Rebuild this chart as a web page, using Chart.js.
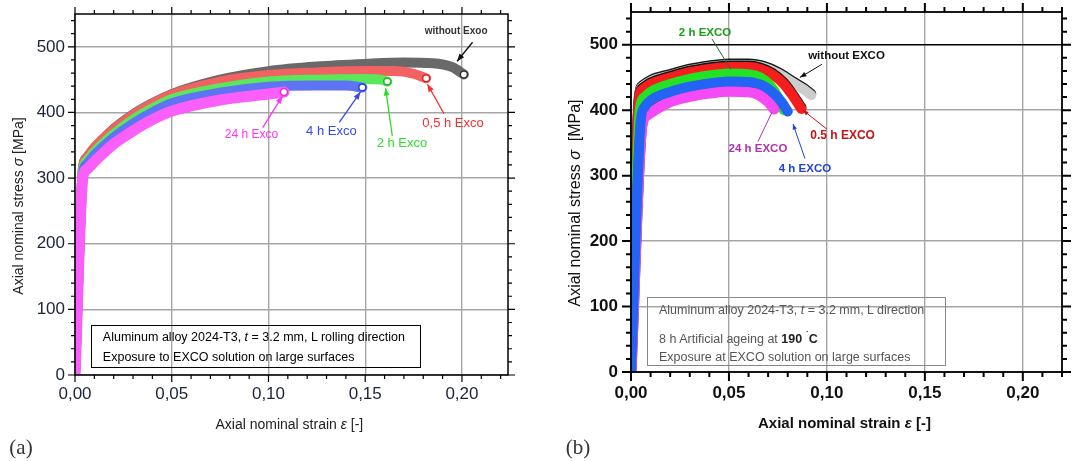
<!DOCTYPE html>
<html>
<head>
<meta charset="utf-8">
<script src="https://cdn.jsdelivr.net/npm/chart.js@4.4.0/dist/chart.umd.min.js"></script>
<style>
  body { margin: 0; background: #fff; width: 1075px; height: 461px; position: relative; overflow: hidden;
         font-family: "Liberation Sans", Arial, sans-serif; }
  canvas { position: absolute; top: 0; }
  .t { position: absolute; white-space: nowrap; transform: translate(-50%, -50%); color: #222; }
  .rot { transform: translate(-50%, -50%) rotate(-90deg); }
  .box { position: absolute; box-sizing: border-box; }
  .line { position: absolute; white-space: nowrap; transform: translateY(-50%); }
  .lbl { position: absolute; transform: translate(-50%, -50%); font-family: "Liberation Serif", serif; font-size: 21px; color: #333; }
</style>
</head>
<body>
<canvas id="chartA" width="540" height="461" style="left:0"></canvas>
<canvas id="chartB" width="535" height="461" style="left:540px"></canvas>

<div class="t rot" id="aYT" style="font-size:14px">Axial nominal stress <i>σ</i> [MPa]</div>
<div class="t" id="aXT" style="font-size:14px">Axial nominal strain <i>ε</i> [-]</div>
<div class="box" id="aBox" style="border:1.5px solid #000"></div>
<div class="line" id="aL1" style="font-size:12.5px">Aluminum alloy 2024-T3, <i>t</i> = 3.2 mm, L rolling direction</div>
<div class="line" id="aL2" style="font-size:12.5px">Exposure to EXCO solution on large surfaces</div>
<div class="lbl" id="aLbl">(a)</div>

<div class="t rot" id="bYT" style="font-size:16px;color:#111">Axial nominal stress <i>σ</i>&nbsp; [MPa]</div>
<div class="t" id="bXT" style="font-size:15px;font-weight:bold;color:#111">Axial nominal strain <i>ε</i> [-]</div>
<div class="box" id="bBox" style="border:1.2px solid #888"></div>
<div class="line" id="bL1" style="font-size:12.5px;color:#555">Aluminum alloy 2024-T3, <i>t</i> = 3.2 mm, L direction</div>
<div class="line" id="bL2" style="font-size:12.5px;color:#555">8 h Artificial ageing at <b style="color:#222">190 <sup style="font-size:9px">˙</sup>C</b></div>
<div class="line" id="bL3" style="font-size:12.5px;color:#555">Exposure at EXCO solution on large surfaces</div>
<div class="lbl" id="bLbl">(b)</div>

<script>
// axis ticks
const xTickVals = [0, 0.05, 0.10, 0.15, 0.20];
const xTickLabels = ['0,00', '0,05', '0,10', '0,15', '0,20'];
const yTickVals = [0, 100, 200, 300, 400, 500];

// (a) 2024-T3, L rolling direction
const aStrainNo = [0, 0.0042, 0.006, 0.01, 0.015, 0.02, 0.03, 0.04, 0.05, 0.075, 0.10, 0.125, 0.15, 0.17, 0.185, 0.195, 0.201];
const aStressNo = [0, 318, 331, 346, 361, 375, 397, 414, 428, 450, 463, 470, 474, 476, 475, 469, 458];
const aStrain05 = [0, 0.0042, 0.006, 0.01, 0.015, 0.02, 0.03, 0.04, 0.05, 0.075, 0.10, 0.125, 0.15, 0.165, 0.175, 0.1815];
const aStress05 = [0, 318, 331, 346, 361, 374, 396, 413, 427, 447, 457, 461, 463, 463, 459, 452];
const aStrain2 = [0, 0.0042, 0.006, 0.01, 0.015, 0.02, 0.03, 0.04, 0.05, 0.075, 0.10, 0.125, 0.15, 0.158, 0.1614];
const aStress2 = [0, 313, 326, 340, 354, 367, 389, 406, 420, 437, 447, 450, 451, 450, 447];
const aStrain4 = [0, 0.0042, 0.006, 0.01, 0.015, 0.02, 0.03, 0.04, 0.05, 0.075, 0.10, 0.125, 0.14, 0.1485];
const aStress4 = [0, 308, 321, 335, 349, 362, 383, 400, 414, 430, 439, 441, 441, 438];
const aStrain24 = [0, 0.004, 0.006, 0.01, 0.015, 0.02, 0.03, 0.04, 0.05, 0.075, 0.10, 0.108];
const aStress24 = [0, 300, 313, 325, 339, 352, 372, 389, 402, 419, 428, 431];

// (b) 2024-T3, 8 h artificial ageing at 190 °C
const bStrainNo = [0, 0.004, 0.006, 0.01, 0.02, 0.03, 0.04, 0.05, 0.06, 0.068, 0.075, 0.082, 0.088, 0.092];
const bStressNo = [0, 418, 436, 444, 453, 461, 466, 469, 469, 465, 456, 443, 432, 423];
const bStrain05 = [0, 0.004, 0.006, 0.01, 0.02, 0.03, 0.04, 0.05, 0.06, 0.066, 0.072, 0.078, 0.083, 0.087];
const bStress05 = [0, 415, 432, 440, 450, 458, 463, 466, 466, 463, 455, 440, 420, 402];
const bStrain2 = [0, 0.0045, 0.007, 0.01, 0.02, 0.03, 0.04, 0.05, 0.06, 0.066, 0.071, 0.075, 0.078];
const bStress2 = [0, 400, 420, 428, 440, 448, 453, 456, 455, 450, 438, 420, 400];
const bStrain4 = [0, 0.005, 0.007, 0.01, 0.02, 0.03, 0.04, 0.05, 0.06, 0.067, 0.072, 0.077, 0.08];
const bStress4 = [0, 385, 405, 415, 428, 436, 441, 444, 443, 438, 428, 412, 398];
const bStrain24 = [0, 0.0055, 0.008, 0.012, 0.02, 0.03, 0.04, 0.05, 0.06, 0.065, 0.07, 0.073];
const bStress24 = [0, 375, 392, 400, 413, 421, 426, 429, 428, 424, 413, 402];

const FONT = '"Liberation Sans", Arial, sans-serif';
const pts = (xs, ys) => xs.map((x, i) => ({ x, y: ys[i] }));

function band(xs, ys, color, order, width, endColor, edge) {
  return {
    data: pts(xs, ys), showLine: true, order, edge,
    borderColor: color, backgroundColor: color, borderWidth: width,
    borderCapStyle: 'round', borderJoinStyle: 'round', cubicInterpolationMode: 'monotone',
    pointRadius: c => (endColor && c.dataIndex === xs.length - 1) ? 3.5 : 0,
    pointBackgroundColor: '#fff', pointBorderColor: endColor || color, pointBorderWidth: 1.5
  };
}

// frame + outward major/minor ticks on all four sides
const frame = {
  id: 'frame',
  afterDraw(chart, args, o) {
    const { ctx, chartArea: a, scales: { x, y } } = chart;
    ctx.save();
    ctx.strokeStyle = '#000';
    ctx.lineWidth = o.border;
    ctx.strokeRect(a.left, a.top, a.right - a.left, a.bottom - a.top);
    ctx.lineWidth = o.tickW;
    ctx.beginPath();
    for (let i = 0; i / 100 <= x.max; i++) {
      const px = x.getPixelForValue(i / 100), L = i % 5 === 0 ? o.major : o.minor;
      ctx.moveTo(px, a.bottom); ctx.lineTo(px, a.bottom + L);
      ctx.moveTo(px, a.top); ctx.lineTo(px, a.top - L);
    }
    for (let i = 0; i * 20 <= y.max; i++) {
      const py = y.getPixelForValue(i * 20), L = i % 5 === 0 ? o.major : o.minor;
      ctx.moveTo(a.left, py); ctx.lineTo(a.left - L, py);
      ctx.moveTo(a.right, py); ctx.lineTo(a.right + L, py);
    }
    ctx.stroke();
    ctx.restore();
  }
};

// dark edge on top of some bands (panel b)
const edge = {
  id: 'edge',
  beforeDatasetDraw(chart, args) {
    if (!chart.data.datasets[args.index].edge) return;
    const c = chart.ctx;
    c.save();
    c.shadowColor = 'rgba(0,0,0,0.9)'; c.shadowOffsetY = -1.5; c.shadowBlur = 0;
  },
  afterDatasetDraw(chart, args) {
    if (chart.data.datasets[args.index].edge) chart.ctx.restore();
  }
};

// curve labels with pointer arrows, placed in data coordinates
const notes = {
  id: 'notes',
  afterDraw(chart, args, o) {
    const { ctx, scales: { x, y } } = chart;
    const P = p => [x.getPixelForValue(p[0]), y.getPixelForValue(p[1])];
    ctx.save();
    o.items.forEach(n => {
      const [x1, y1] = P(n.from), [x2, y2] = P(n.to);
      ctx.strokeStyle = n.line || n.color; ctx.fillStyle = n.line || n.color; ctx.lineWidth = n.lw || 1.3;
      ctx.beginPath(); ctx.moveTo(x1, y1); ctx.lineTo(x2, y2); ctx.stroke();
      if (n.head) {
        const ang = Math.atan2(y2 - y1, x2 - x1), s = n.head;
        ctx.beginPath(); ctx.moveTo(x2, y2);
        ctx.lineTo(x2 - s * Math.cos(ang - 0.38), y2 - s * Math.sin(ang - 0.38));
        ctx.lineTo(x2 - s * Math.cos(ang + 0.38), y2 - s * Math.sin(ang + 0.38));
        ctx.closePath(); ctx.fill();
      }
      const [tx, ty] = P(n.at);
      ctx.font = n.font; ctx.fillStyle = n.color; ctx.textAlign = 'center'; ctx.textBaseline = 'middle';
      ctx.fillText(n.text, tx, ty);
    });
    ctx.restore();
  }
};

function makeChart(id, datasets, o) {
  return new Chart(document.getElementById(id), {
    type: 'scatter',
    data: { datasets },
    options: {
      responsive: false, animation: false, events: [],
      layout: { padding: { left: 0, right: o.padR, top: o.padT, bottom: 0 } },
      plugins: { legend: { display: false }, tooltip: { enabled: false }, frame: o.frame, notes: { items: o.notes } },
      scales: {
        x: {
          type: 'linear', min: 0, max: o.xMax,
          afterFit: s => { s.height = o.xH; s.paddingLeft = 0; s.paddingRight = 0; },
          afterBuildTicks: s => { s.ticks = xTickVals.map(value => ({ value })); },
          ticks: { callback: v => xTickLabels[xTickVals.indexOf(v)], font: o.tickFont, color: o.tickColor,
                   padding: o.xPad, maxRotation: 0, autoSkip: false },
          grid: { color: '#a6a6a6', lineWidth: 1.4, drawTicks: false },
          border: { display: false }
        },
        y: {
          type: 'linear', min: 0, max: 550,
          afterFit: s => { s.width = o.yW; s.paddingTop = 0; s.paddingBottom = 0; },
          afterBuildTicks: s => { s.ticks = yTickVals.map(value => ({ value })); },
          ticks: { font: o.tickFont, color: o.tickColor, padding: o.yPad, autoSkip: false },
          grid: { color: o.gridColor, lineWidth: o.gridWidth, drawTicks: false },
          border: { display: false }
        }
      }
    },
    plugins: [edge, frame, notes]
  });
}

const chartA = makeChart('chartA', [
  band(aStrain24, aStress24, 'rgb(250,95,250)', 1, 11, '#e030e0'),
  band(aStrain4, aStress4, 'rgb(95,115,245)', 2, 10, '#2040e0'),
  band(aStrain2, aStress2, 'rgb(90,232,90)', 3, 10, '#20b020'),
  band(aStrain05, aStress05, 'rgb(242,98,98)', 4, 10, '#e02020'),
  band(aStrainNo, aStressNo, 'rgb(105,105,105)', 5, 10, '#333')
], {
  xMax: 0.2238, padR: 32, padT: 14, xH: 86, yW: 75, xPad: 9, yPad: 10,
  tickFont: { family: FONT, size: 17 }, tickColor: '#1c2238',
  gridColor: '#a6a6a6', gridWidth: 1.4,
  frame: { border: 1.5, tickW: 1.2, major: 7, minor: 4 },
  notes: [
    { text: 'without Exoo', color: '#333', line: '#111', font: 'bold 10px ' + FONT, at: [0.197, 523], from: [0.2055, 507], to: [0.1975, 478], head: 8 },
    { text: '0,5 h Exco', color: '#ff2a2a', font: '13px ' + FONT, at: [0.1954, 383], from: [0.1907, 398], to: [0.1822, 443], head: 8 },
    { text: '2 h Exco', color: '#2edc2e', font: '13px ' + FONT, at: [0.169, 353], from: [0.164, 364], to: [0.1605, 437], head: 8 },
    { text: '4 h Exco', color: '#3348ee', font: '13px ' + FONT, at: [0.1325, 371], from: [0.1366, 385], to: [0.1475, 431], head: 8 },
    { text: '24 h Exco', color: '#ff33ff', font: '12px ' + FONT, at: [0.0912, 366], from: [0.097, 377], to: [0.1072, 425], head: 8 }
  ]
});

const chartB = makeChart('chartB', [
  band(bStrain4, bStress4, 'rgb(35,100,245)', 1, 10),
  band(bStrain24, bStress24, 'rgb(245,75,245)', 2, 11, null, true),
  band(bStrain2, bStress2, 'rgb(35,225,35)', 3, 10),
  band(bStrain05, bStress05, 'rgb(245,30,30)', 4, 10, null, true),
  band(bStrainNo, bStressNo, 'rgb(205,205,205)', 5, 10, null, true)
], {
  xMax: 0.22, padR: 13, padT: 12, xH: 89, yW: 91, xPad: 11, yPad: 13,
  tickFont: { family: FONT, size: 17, weight: 'bold' }, tickColor: '#111',
  gridColor: c => c.tick.value === 500 ? '#000' : '#a6a6a6',
  gridWidth: c => c.tick.value === 500 ? 1.6 : 1.4,
  frame: { border: 1.8, tickW: 2, major: 9, minor: 5 },
  notes: [
    { text: '2 h EXCO', color: '#15a015', line: '#2a6a2a', font: 'bold 11.5px ' + FONT, at: [0.0378, 518], from: [0.0413, 509], to: [0.051, 462], lw: 1 },
    { text: 'without EXCO', color: '#111', font: 'bold 11.5px ' + FONT, at: [0.110, 483], from: [0.0974, 470], to: [0.0862, 450], head: 7, lw: 1 },
    { text: '0.5 h EXCO', color: '#c41414', font: 'bold 12px ' + FONT, at: [0.108, 361], from: [0.100, 371], to: [0.0878, 400], head: 6, lw: 1 },
    { text: '24 h EXCO', color: '#b030b0', font: 'bold 11.5px ' + FONT, at: [0.0648, 341], from: [0.0648, 352], to: [0.072, 397], lw: 1 },
    { text: '4 h EXCO', color: '#2244cc', font: 'bold 11.5px ' + FONT, at: [0.0888, 311], from: [0.0888, 326], to: [0.0827, 379], head: 6, lw: 1 }
  ]
});

// place the html texts relative to each chart's scales
function placer(chart, offX) {
  const { x, y } = chart.scales, a = chart.chartArea;
  return { X: v => offX + x.getPixelForValue(v), Y: v => y.getPixelForValue(v), L: offX + a.left, B: a.bottom };
}
function put(id, left, top) {
  const el = document.getElementById(id);
  el.style.left = left + 'px'; el.style.top = top + 'px';
}
function boxAt(id, l, r, t, b) {
  const el = document.getElementById(id);
  el.style.left = l + 'px'; el.style.top = t + 'px';
  el.style.width = (r - l) + 'px'; el.style.height = (b - t) + 'px';
}

const pa = placer(chartA, 0);
put('aYT', pa.L - 57, pa.Y(257));
put('aXT', pa.X(0.1108), pa.B + 49);
boxAt('aBox', pa.X(0.0082), pa.X(0.1789), pa.Y(76), pa.Y(11));
put('aL1', pa.X(0.0144), pa.Y(58));
put('aL2', pa.X(0.0144), pa.Y(27));
put('aLbl', pa.L - 54, pa.B + 72);

const pb = placer(chartB, 540);
put('bYT', pb.L - 56, pb.Y(258));
put('bXT', pb.X(0.109), pb.B + 50);
boxAt('bBox', pb.X(0.0082), pb.X(0.1607), pb.Y(115), pb.Y(9));
put('bL1', pb.X(0.0143), pb.Y(94));
put('bL2', pb.X(0.0143), pb.Y(51.5));
put('bL3', pb.X(0.0143), pb.Y(22.7));
put('bLbl', pb.L - 53, pb.B + 75);
</script>
</body>
</html>
